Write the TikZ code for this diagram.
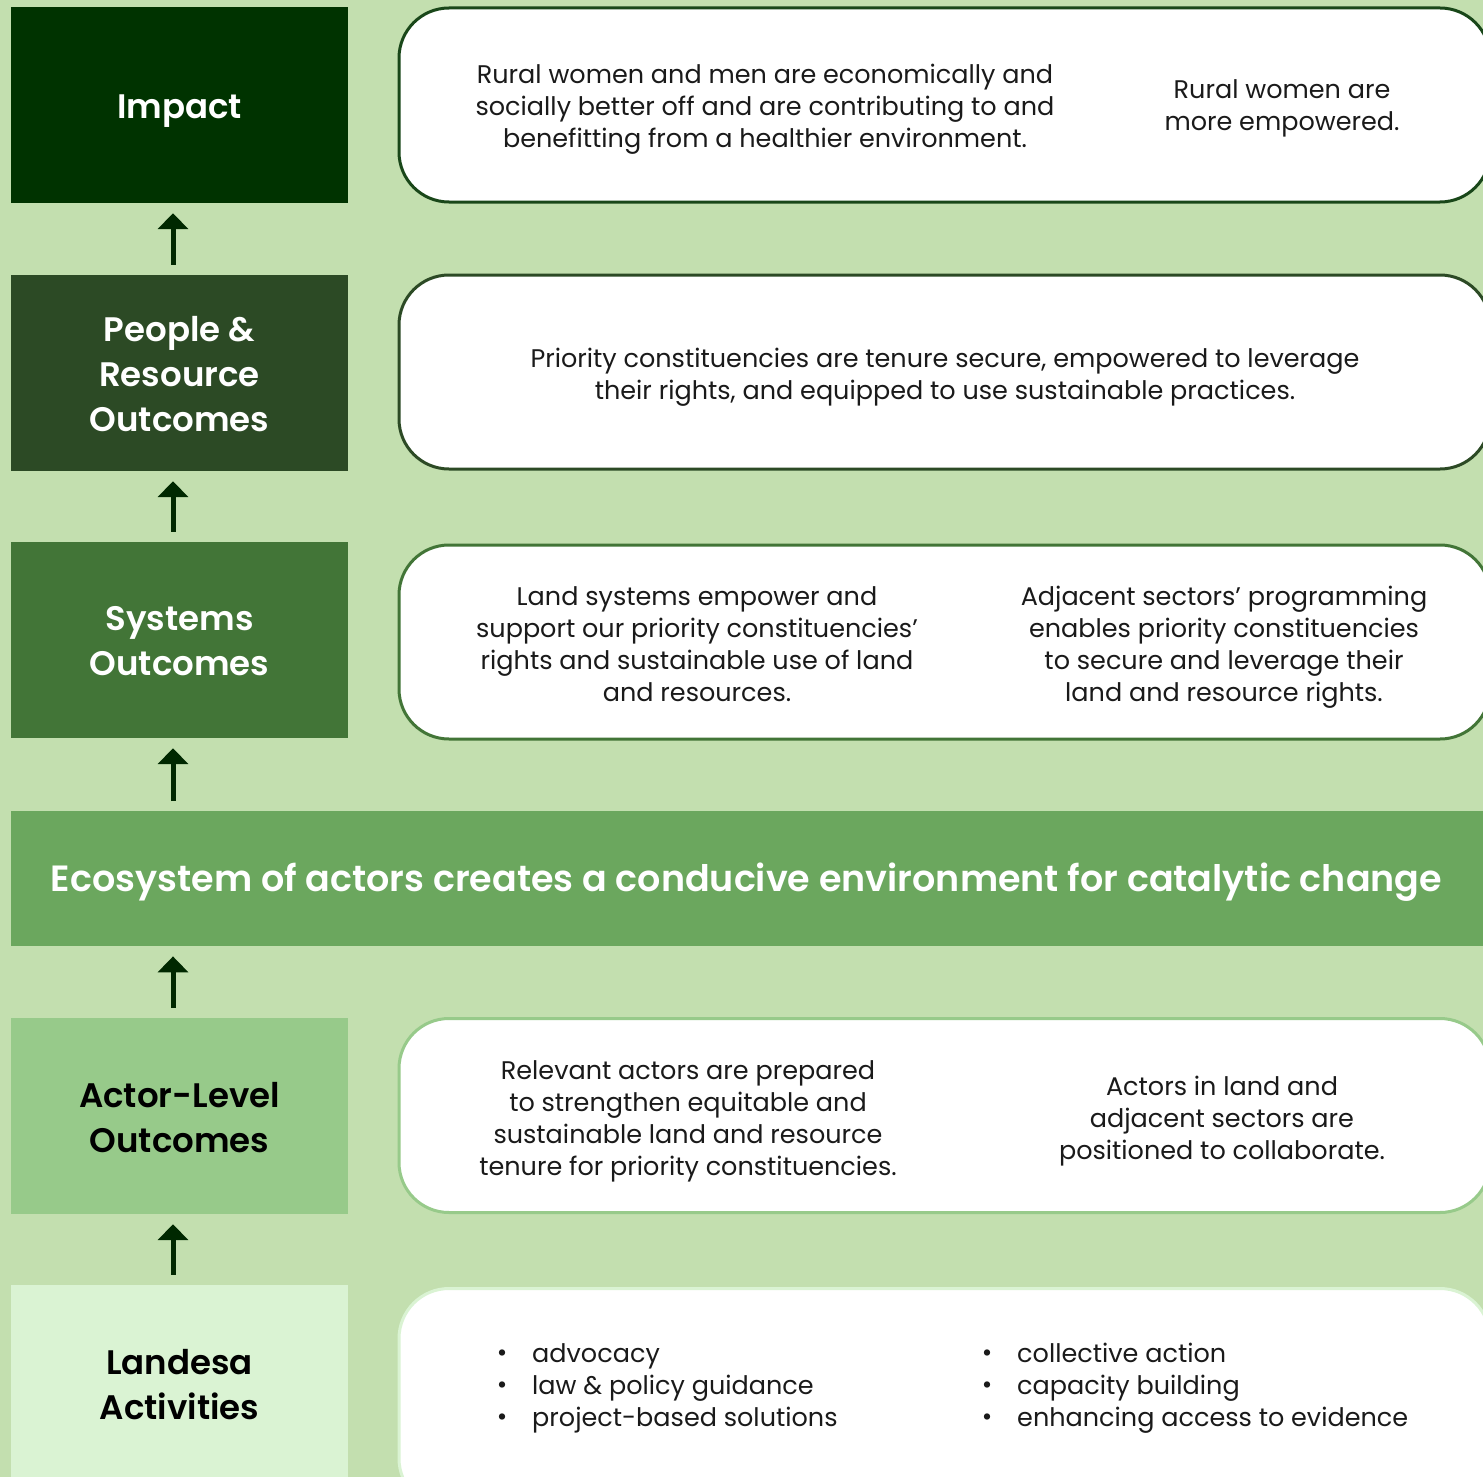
\documentclass[tikz,border=0pt]{standalone}
\usepackage{fontspec}
\setmainfont{Poppins}[BoldFont={Poppins SemiBold}]
\usetikzlibrary{arrows.meta}
\definecolor{bgc}{HTML}{C3DFAF}
\definecolor{impactc}{HTML}{003300}
\definecolor{peoplec}{HTML}{2C4A25}
\definecolor{systemc}{HTML}{427537}
\definecolor{ecoc}{HTML}{6BA75E}
\definecolor{actorc}{HTML}{97CA8A}
\definecolor{landc}{HTML}{DAF3D3}
\definecolor{arrowc}{HTML}{002800}
\definecolor{txtc}{HTML}{1A1A1A}
\begin{document}
\begin{tikzpicture}[x=1pt,y=-1pt,
  sym/.style={execute at begin node=\vphantom{Ag},execute at end node=\vphantom{Ag}},
  lbox/.style={rectangle,minimum width=337pt,minimum height=196pt,inner sep=0pt},
  ttl/.style={sym,align=center,inner sep=0pt,yshift=-6pt,font=\bfseries\fontsize{34}{45}\selectfont},
  rbox/.style={rectangle,rounded corners=50pt,fill=white,line width=3pt,minimum width=1091pt,minimum height=194pt,inner sep=0pt},
  body/.style={sym,align=center,text=txtc,inner sep=0pt,yshift=-2pt,font=\fontsize{25.5}{32}\selectfont},
  uparrow/.style={draw=arrowc,line width=5pt,-{Triangle[width=30pt,length=16pt]},shorten <=10pt,shorten >=10pt}
]
\useasboundingbox (0,0) rectangle (1483,1477);
\fill[bgc] (0,0) rectangle (1483,1477);

% left column
\node[lbox,fill=impactc] (impact) at (179.5,105) {};
\node[ttl,text=white] (impactT) at (impact.center) {Impact};
\node[lbox,fill=peoplec] (people) at (179.5,373) {};
\node[ttl,text=white] (peopleT) at (people.center) {People \&\\Resource\\Outcomes};
\node[lbox,fill=systemc] (systems) at (179.5,640) {};
\node[ttl,text=white] (systemsT) at (systems.center) {Systems\\Outcomes};
\node[rectangle,fill=ecoc,minimum width=1490pt,minimum height=135pt,inner sep=0pt,anchor=north west] (eco) at (11,811) {};
\node[ttl,text=white,yshift=3pt,font=\bfseries\fontsize{36.5}{40}\selectfont] (ecot) at (746.5,879) {Ecosystem of actors creates a conducive environment for catalytic change};
\node[lbox,fill=actorc] (actor) at (179.5,1116) {};
\node[ttl,text=black] (actorT) at (actor.center) {Actor-Level\\Outcomes};
\node[lbox,fill=landc] (land) at (179.5,1383) {};
\node[ttl,text=black] (landT) at (land.center) {Landesa\\Activities};

% arrows
\draw[uparrow] ([xshift=-6.5pt]people.north) -- ([xshift=-6.5pt]impact.south);
\draw[uparrow] ([xshift=-6.5pt]systems.north) -- ([xshift=-6.5pt]people.south);
\draw[uparrow] ([xshift=-6.5pt]systems.south |- eco.north) -- ([xshift=-6.5pt]systems.south);
\draw[uparrow] ([xshift=-6.5pt]actor.north) -- ([xshift=-6.5pt]actor.north |- eco.south);
\draw[uparrow] ([xshift=-6.5pt]land.north) -- ([xshift=-6.5pt]actor.south);

% right boxes
\node[rbox,draw=impactc!90!white] (impR) at (944.5,105) {};
\node[rbox,draw=peoplec] (peopleR) at (944.5,372) {};
\node[rbox,draw=systemc] (sysR) at (944.5,642) {};
\node[rbox,draw=actorc] (actR) at (944.5,1115.5) {};
\node[rbox,draw=landc,minimum height=220pt,anchor=north] (landR) at (944.5,1287) {};

% texts
\node[body] (impT1) at (765,107) {Rural women and men are economically and\\socially better off and are contributing to and\\benefitting from a healthier environment.};
\node[body] (impT2) at (1282,107) {Rural women are\\more empowered.};
\node[body] (peoT) at (945,375) {Priority constituencies are tenure secure, empowered to leverage\\their rights, and equipped to use sustainable practices.};
\node[body,yshift=-1pt] (sysT1) at (697,645) {Land systems empower and\\support our priority constituencies’\\rights and sustainable use of land\\and resources.};
\node[body] (sysT2) at (1224,645) {Adjacent sectors’ programming\\enables priority constituencies\\to secure and leverage their\\land and resource rights.};
\node[body] (actT1) at (688,1119) {Relevant actors are prepared\\to strengthen equitable and\\sustainable land and resource\\tenure for priority constituencies.};
\node[body] (actT2) at (1222,1119) {Actors in land and\\adjacent sectors are\\positioned to collaborate.};

\node[body,yshift=-3pt] (bul1) at (502,1386) {•\\•\\•};
\node[body,align=left,anchor=west] (land1) at (532,1386) {advocacy\\law \& policy guidance\\project-based solutions};
\node[body,yshift=-3pt] (bul2) at (987,1386) {•\\•\\•};
\node[body,align=left,anchor=west] (land2) at (1017,1386) {collective action\\capacity building\\enhancing access to evidence};
\end{tikzpicture}
\end{document}
